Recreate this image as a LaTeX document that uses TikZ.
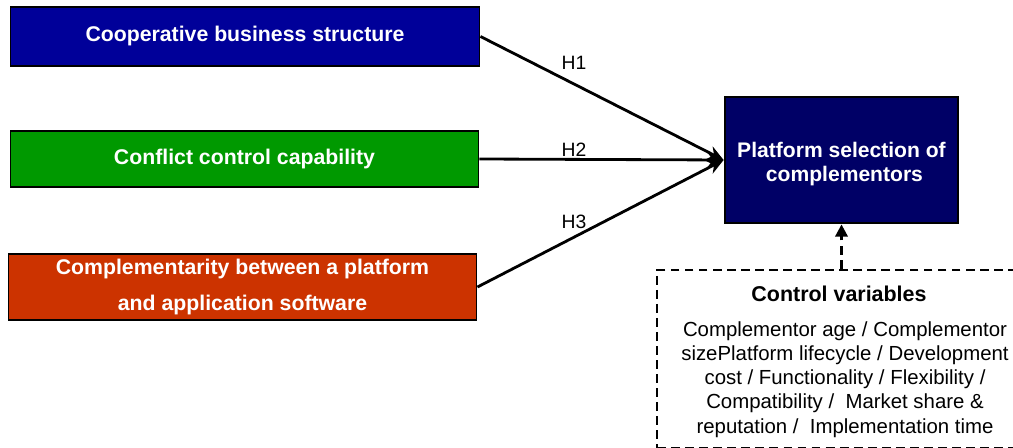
\documentclass[tikz,border=0pt]{standalone}
\usepackage{fontspec}
\setmainfont{Liberation Sans}
\usetikzlibrary{positioning, arrows.meta}
\definecolor{coopblue}{RGB}{0,0,153}
\definecolor{conflictgreen}{RGB}{0,153,0}
\definecolor{complred}{RGB}{204,51,0}
\definecolor{platnavy}{RGB}{0,0,102}

\begin{document}
\begin{tikzpicture}[x=0.02cm, y=-0.02cm,
    factor/.style={draw=black, line width=0.6pt, text=white, align=center,
      font=\bfseries\fontsize{12.1}{20.5}\selectfont, inner sep=0pt},
    hyp/.style={-{Stealth[length=9pt, width=8pt]}, line width=1.6pt},
    hlabel/.style={font=\fontsize{11}{13}\selectfont, inner sep=1pt}]
  \useasboundingbox (0,0) rectangle (1013,448);

  % Independent variables
  \node[factor, fill=coopblue, minimum width=9.4cm, minimum height=1.18cm] (coop) at (245,36.5) {Cooperative business structure};
  \node[factor, fill=conflictgreen, minimum width=9.38cm, minimum height=1.12cm] (conflict) at (244.5,159) {Conflict control capability};
  \node[factor, fill=complred, minimum width=9.38cm, minimum height=1.32cm] (compl) at (242.5,287) {Complementarity between a platform\\and application software};

  % Dependent variable
  \node[draw=black, line width=1.6pt, fill=platnavy, text=white, align=center,
    font=\bfseries\fontsize{12}{13.6}\selectfont, minimum width=4.66cm, minimum height=2.52cm] (platform) at (841.5,160)
    {\rule{0pt}{13.6pt}Platform selection of\\ \ complementors};

  % Hypotheses
  \draw[hyp] (coop.east) -- (platform.west);
  \draw[hyp] (conflict.east) -- (platform.west);
  \draw[hyp] (compl.east) -- (platform.west);
  \node[hlabel] (h1) at (574,63) {H1};
  \node[hlabel] (h2) at (574,150) {H2};
  \node[hlabel] (h3) at (574,222) {H3};

  % Controls
  \node[draw=black, line width=1.6pt, dash pattern=on 5pt off 3pt, minimum width=7.3cm, minimum height=3.56cm] (ctrl) at (839.5,359) {};
  \node[font=\bfseries\fontsize{12.2}{14}\selectfont] (ctrltitle) at (839,294) {Control variables};
  \node[align=center, font=\fontsize{11.6}{13.8}\selectfont, below=4pt of ctrltitle, xshift=0.12cm] (ctrlbody)
    {Complementor age / Complementor\\sizePlatform lifecycle / Development\\cost / Functionality / Flexibility /\\Compatibility /\ \ Market share \&\\reputation /\ \ Implementation time};
  \draw[line width=1.6pt, dash pattern=on 5pt off 3pt, -{Triangle[length=7pt, width=7pt]}] (ctrl.north -| platform.south) -- (platform.south);
\end{tikzpicture}
\end{document}
